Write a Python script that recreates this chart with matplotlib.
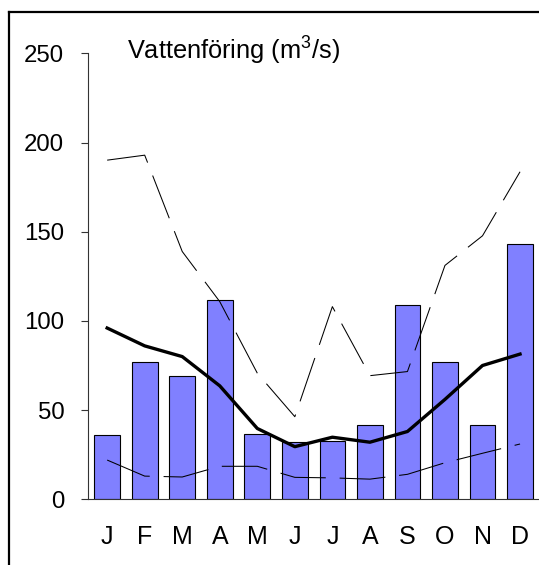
import matplotlib
matplotlib.use("Agg")
import matplotlib.pyplot as plt
from matplotlib.lines import Line2D
import numpy as np

plt.rcParams['font.family'] = ['Liberation Sans', 'DejaVu Sans']
plt.rcParams['mathtext.fontset'] = 'custom'
plt.rcParams['mathtext.rm'] = 'Liberation Sans'
plt.rcParams['mathtext.it'] = 'Liberation Sans'
plt.rcParams['lines.scale_dashes'] = False

months = ['J', 'F', 'M', 'A', 'M', 'J', 'J', 'A', 'S', 'O', 'N', 'D']
flow_year = [35.9, 76.8, 69.3, 111.6, 36.5, 32.3, 32.9, 41.5, 108.8, 77.2, 41.5, 143.0]
flow_mean = [96, 86, 80, 63.6, 39.7, 29.5, 34.8, 32, 38, 56, 75, 81.4]
flow_max = [190.1, 192.9, 138.9, 110.8, 70.7, 46.3, 108, 69.3, 71.6, 131.1, 147.7, 183.6]
flow_min = [22, 13, 12.5, 18.5, 18.5, 12.3, 12, 11.3, 14, 20.5, 25.8, 31]
yticks = [0, 50, 100, 150, 200, 250]
title = 'Vattenföring (m$^{3}$/s)'

W, H = 539, 565
fig = plt.figure(figsize=(W / 100, H / 100), dpi=100)

left, right, bottom, top = 88.4, 538.8, 499.3, 53.3
ax = fig.add_axes([left / W, 1 - bottom / H, (right - left) / W, (bottom - top) / H])

x = np.arange(len(months))
ax.bar(x, flow_year, width=0.684, color='#8080FF', edgecolor='black', linewidth=0.8, zorder=2)
dash = (0, (33, 10))
ax.plot(x, flow_max, color='black', linewidth=0.75, linestyle=dash, zorder=3)
ax.plot(x, flow_min, color='black', linewidth=0.75, linestyle=dash, zorder=3)
ax.plot(x, flow_mean, color='black', linewidth=2.4, zorder=4, solid_joinstyle='round')

ax.set_xlim(-0.5, len(months) - 0.5)
ax.set_ylim(0, 250)
ax.set_yticks(yticks)
ax.set_xticks(x)
ax.set_xticklabels(months)
ax.tick_params(axis='y', direction='out', length=5.3, width=0.8, pad=12, labelsize=17.3, color='#333333')
ax.tick_params(axis='x', length=0, pad=18.5, labelsize=18)
for s in ['top', 'right']:
    ax.spines[s].set_visible(False)
ax.spines['left'].set_color('#333333')
ax.spines['left'].set_linewidth(0.8)
ax.spines['bottom'].set_color('#333333')
ax.spines['bottom'].set_linewidth(0.8)
ax.patch.set_visible(False)

fig.text(126.7 / W, 1 - 59.3 / H, title, fontsize=18.3, ha='left', va='baseline')

# outer frame (left and top edges visible)
fig.add_artist(Line2D([9.3 / W, 9.3 / W], [0, 1 - 11.7 / H], transform=fig.transFigure,
                      color='black', linewidth=1.6))
fig.add_artist(Line2D([9.3 / W, 1.0], [1 - 11.7 / H, 1 - 11.7 / H], transform=fig.transFigure,
                      color='black', linewidth=1.6))

fig.savefig('out.png', dpi=100)
